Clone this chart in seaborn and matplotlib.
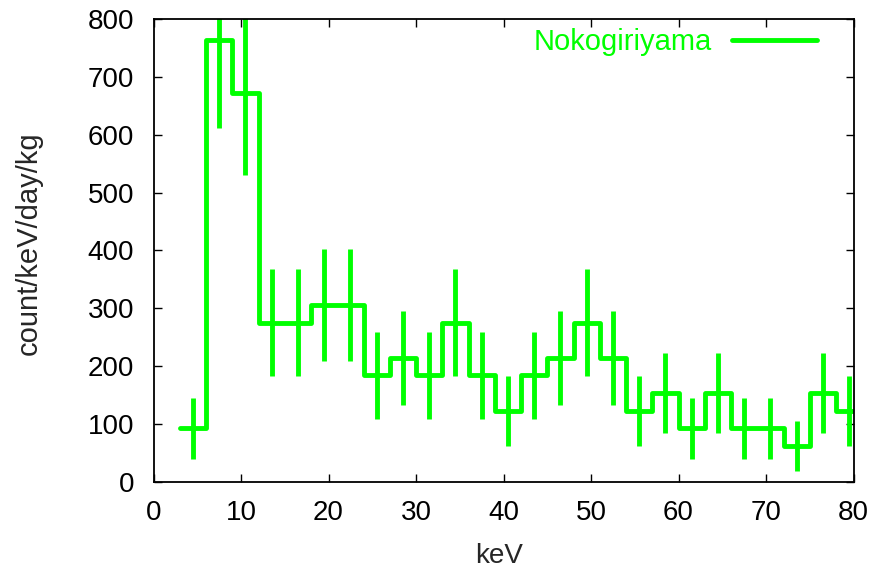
import numpy as np
import pandas as pd
import matplotlib
matplotlib.use("Agg")
import matplotlib.pyplot as plt
import seaborn as sns

# Bin centres (keV), bin width 3 keV
centers = [4.5, 7.5, 10.5, 13.5, 16.5, 19.5, 22.5, 25.5, 28.5, 31.5, 34.5, 37.5, 40.5,
           43.5, 46.5, 49.5, 52.5, 55.5, 58.5, 61.5, 64.5, 67.5, 70.5, 73.5, 76.5, 79.5]
rates = [92, 765, 673, 275, 275, 306, 306, 184, 214, 184, 275, 184, 122,
         184, 214, 275, 214, 122, 153, 92, 153, 92, 92, 61, 153, 122]
errors = [53, 153, 143, 92, 92, 97, 97, 75, 81, 75, 92, 75, 61,
          75, 81, 92, 81, 61, 69, 53, 69, 53, 53, 43, 69, 61]
bin_width = 3.0
series_label = "Nokogiriyama"
xticks = [0, 10, 20, 30, 40, 50, 60, 70, 80]
yticks = [0, 100, 200, 300, 400, 500, 600, 700, 800]

sns.set_style("ticks")
plt.rcParams['font.family'] = ['Liberation Sans', 'DejaVu Sans']

fs = 20
lw = 3.5
green = "#00ff00"
fig = plt.figure(figsize=(8.75, 5.77), dpi=100)
ax = fig.add_axes([153.5 / 875, 1 - 481.5 / 577, 700 / 875, (481.5 - 19.3) / 577])

c = np.array(centers)
edges = np.append(c - bin_width / 2, c[-1] + bin_width / 2)
step_df = pd.DataFrame({"keV": edges, "rate": list(rates) + [rates[-1]]})
sns.lineplot(data=step_df, x="keV", y="rate", drawstyle="steps-post", color=green,
             linewidth=lw, ax=ax, label=series_label, sort=False, estimator=None)
ax.errorbar(centers, rates, yerr=errors, fmt="none", ecolor=green, elinewidth=lw, capsize=0)

ax.set_xlim(0, 80)
ax.set_ylim(0, 800)
ax.set_xticks(xticks)
ax.set_yticks(yticks)
ax.tick_params(direction="in", length=6, width=1, top=True, right=True,
               labelsize=fs, colors="black")
ax.tick_params(axis="x", pad=13)
ax.tick_params(axis="y", pad=14)
for s in ax.spines.values():
    s.set_visible(True)
    s.set_linewidth(1.3)
    s.set_color("black")
ax.set_xlabel("keV", fontsize=fs, va="center")
ax.set_ylabel("count/keV/day/kg", fontsize=21, va="center")
ax.xaxis.set_label_coords((499 - 153.5) / 700, (481.5 - 556) / 462.2)
ax.yaxis.set_label_coords((29 - 153.5) / 700, (481.5 - 243) / 462.2)

leg = ax.legend(loc="center right", bbox_to_anchor=(817 / 875, 1 - 42 / 577),
                bbox_transform=fig.transFigure, frameon=False, markerfirst=False,
                handlelength=2.9, handletextpad=0.7, borderpad=0, borderaxespad=0,
                fontsize=21, labelcolor=green)
for line in leg.get_lines():
    line.set_linewidth(lw)

fig.savefig("out.png", dpi=100)
